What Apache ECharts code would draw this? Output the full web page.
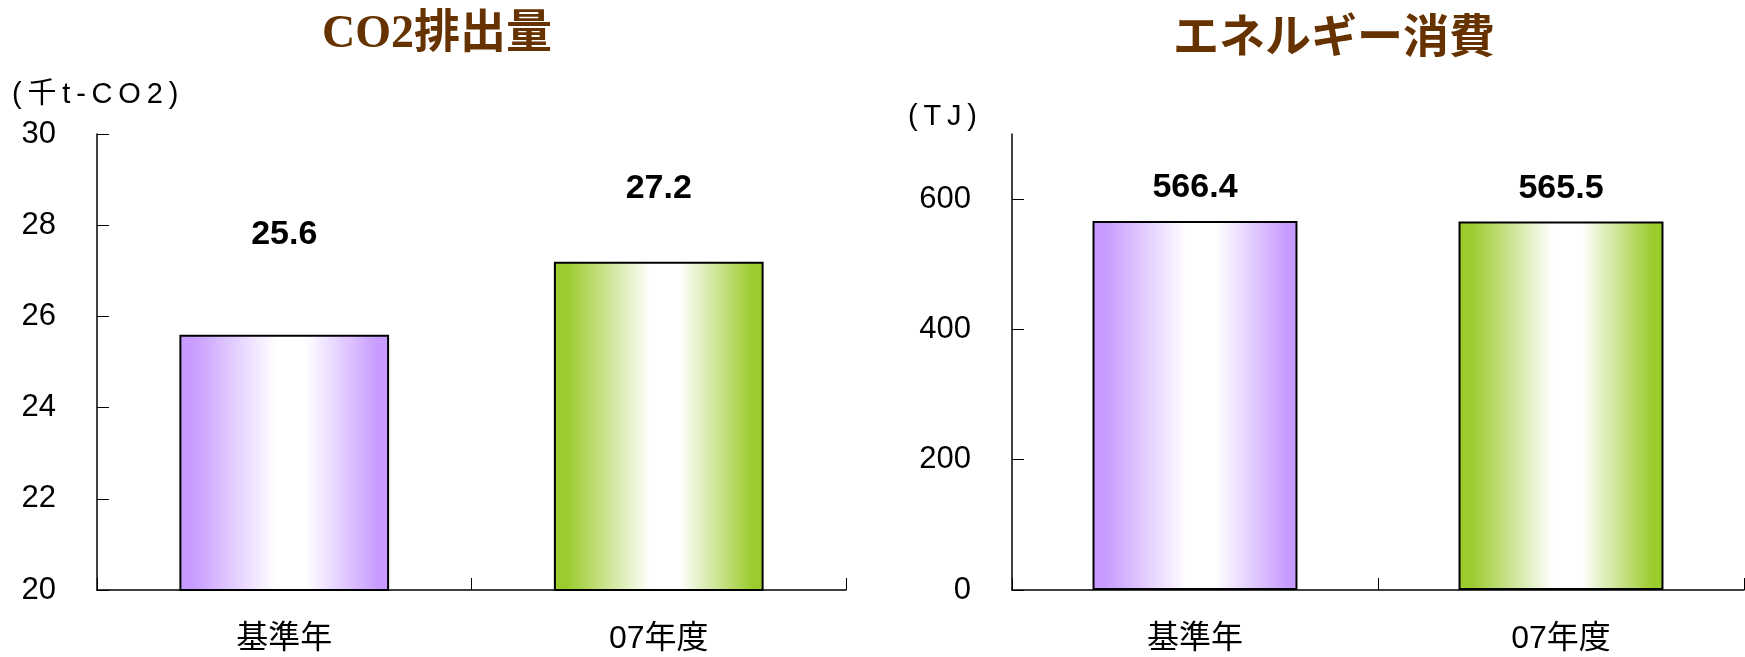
<!DOCTYPE html>
<html>
<head>
<meta charset="utf-8">
<script src="https://cdn.jsdelivr.net/npm/echarts@6/dist/echarts.min.js"></script>
<style>
html,body{margin:0;padding:0;background:#fff;}
#main{width:1745px;height:657px;}
</style>
</head>
<body>
<div id="main"></div>
<script>
// ---- data ----
const categories = ['基準年', '07年度'];
const co2Values = [25.6, 27.2];
const energyValues = [566.4, 565.5];
const co2Ticks = [20, 22, 24, 26, 28, 30];
const energyTicks = [0, 200, 400, 600];
const titles = ['CO2排出量', 'エネルギー消費'];
const units = ['(\u2009千\u2009t\u2009-\u2009C\u2009O\u20092\u2009)', '(\u2009T\u2009J\u2009)'];

// ---- styling helpers ----
const purple = '#c79bff';
const green = '#9bcb2c';
function grad(c) {
  return new echarts.graphic.LinearGradient(0, 0, 1, 0, [
    { offset: 0, color: c },
    { offset: 0.06, color: c },
    { offset: 0.46, color: '#ffffff' },
    { offset: 0.6, color: '#ffffff' },
    { offset: 0.95, color: c },
    { offset: 1, color: c }
  ]);
}
const barColors = [purple, green];
const numFont = '"Liberation Sans", Arial, "Noto Sans CJK JP", sans-serif';
const axisLine = { show: true, onZero: false, lineStyle: { color: '#000', width: 1.5 } };

function xAxisFor(gi) {
  return {
    type: 'category', gridIndex: gi, data: categories,
    axisLine: axisLine,
    axisTick: { show: true, inside: true, length: 12, lineStyle: { color: '#000' } },
    axisLabel: { color: '#000', fontSize: 32, margin: 33, fontFamily: numFont }
  };
}

function seriesFor(gi, values, gaps) {
  return {
    type: 'bar', xAxisIndex: gi, yAxisIndex: gi, barWidth: '56%',
    data: values.map((v, i) => ({
      value: v,
      itemStyle: { color: grad(barColors[i]), borderColor: '#000', borderWidth: 2 },
      label: { distance: gaps[i] }
    })),
    label: {
      show: true, position: 'top', color: '#000', fontSize: 34, fontWeight: 'bold',
      fontFamily: numFont, formatter: p => p.value.toFixed(1)
    },
    emphasis: { disabled: true },
    animation: false
  };
}

const chart = echarts.init(document.getElementById('main'), null, { renderer: 'canvas' });
chart.setOption({
  animation: false,
  backgroundColor: '#fff',
  title: [
    { text: titles[0], left: 432, top: 30, textAlign: 'center', textVerticalAlign: 'middle',
      textStyle: { color: '#663300', fontSize: 46, fontWeight: 'bold',
        fontFamily: '"Liberation Serif", "Times New Roman", "Noto Sans CJK JP", serif' } },
    { text: titles[1], left: 1329, top: 30, textAlign: 'center', textVerticalAlign: 'middle',
      textStyle: { color: '#663300', fontSize: 46, fontWeight: 'bold',
        fontFamily: '"Noto Sans CJK JP", sans-serif' } }
  ],
  graphic: [
    { type: 'text', left: 12, top: 80, style: { text: units[0], fill: '#000', fontSize: 29, fontFamily: numFont } },
    { type: 'text', left: 908, top: 102, style: { text: units[1], fill: '#000', fontSize: 29, fontFamily: numFont } }
  ],
  grid: [
    { left: 97, top: 134, width: 749, height: 456 },
    { left: 1012, top: 134, width: 732, height: 456 }
  ],
  xAxis: [xAxisFor(0), xAxisFor(1)],
  yAxis: [
    {
      type: 'value', gridIndex: 0,
      min: co2Ticks[0], max: co2Ticks[co2Ticks.length - 1], interval: co2Ticks[1] - co2Ticks[0],
      axisLine: axisLine,
      axisTick: { show: true, inside: true, length: 12, lineStyle: { color: '#000' } },
      axisLabel: { color: '#000', fontSize: 31, margin: 41, fontFamily: numFont },
      splitLine: { show: false }
    },
    {
      type: 'value', gridIndex: 1, min: 0, max: 700,
      axisLine: axisLine,
      axisTick: { show: true, inside: true, length: 12, lineStyle: { color: '#000' }, customValues: energyTicks },
      axisLabel: { color: '#000', fontSize: 31, margin: 41, fontFamily: numFont, customValues: energyTicks },
      splitLine: { show: false }
    }
  ],
  series: [
    seriesFor(0, co2Values, [83, 56]),
    seriesFor(1, energyValues, [16, 16])
  ]
});
</script>
</body>
</html>
